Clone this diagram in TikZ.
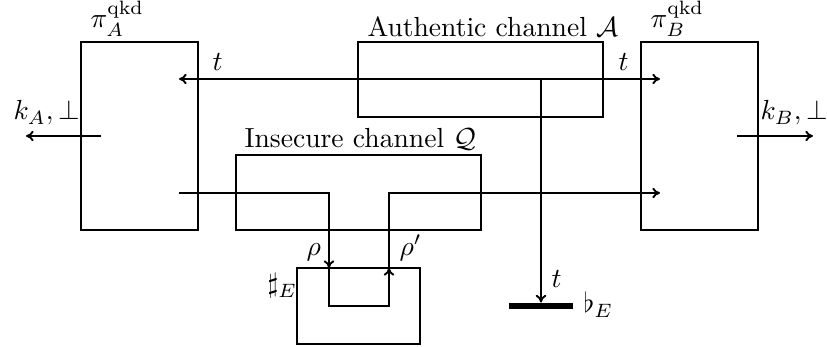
\documentclass[tikz,border=0pt]{standalone}
\usetikzlibrary{fit,arrows.meta}
\begin{document}
\begin{tikzpicture}[x=0.01464cm, y=-0.01464cm,
  >={Computer Modern Rightarrow[length=3.2pt,width=4.4pt]},
  box/.style={draw, thick, inner sep=0pt},
  conn/.style={thick},
  lbl/.style={inner sep=0pt, anchor=base west, scale=1.15}]
\useasboundingbox (0,0) rectangle (827,347);
% boxes
\node[box, fit={(81,42) (198,230)}] (A) {};
\node[box, fit={(641,42) (758,230)}] (B) {};
\node[box, fit={(358,42) (603,117)}] (Auth) {};
\node[box, fit={(236,155) (481,230)}] (Insec) {};
\node[box, fit={(297,268) (420,344)}] (Eve) {};
\node[fill=black, inner sep=0pt, fit={(509,303) (573,309)}] (bar) {};
% labels
\node[lbl] (piA) at (90,28) {$\pi_A^{\mathrm{qkd}}$};
\node[lbl] (piB) at (650,28) {$\pi_B^{\mathrm{qkd}}$};
\node[lbl] (authlbl) at (367,37) {Authentic channel $\mathcal{A}$};
\node[lbl] (inseclbl) at (244,148) {Insecure channel $\mathcal{Q}$};
\node[lbl] (tl) at (212,71) {$t$};
\node[lbl] (tr) at (618,71) {$t$};
\node[lbl] (kA) at (13,120) {$k_A,\bot$};
\node[lbl] (kB) at (760,120) {$k_B,\bot$};
\node[lbl] (rho) at (306,256) {$\rho$};
\node[lbl] (rhop) at (399,256) {$\rho'$};
\node[lbl] (sharp) at (267,293) {$\sharp_E$};
\node[lbl] (tbar) at (551,288) {$t$};
\node[lbl] (flat) at (583,313) {$\flat_E$};
% coordinates
\coordinate (tA) at (179,79);
\coordinate (tB) at (660,79);
\coordinate (J) at (bar.north |- tA);
\coordinate (kAs) at (101,136);
\coordinate (kAe) at (26,136);
\coordinate (kBs) at (737,136);
\coordinate (kBe) at (813,136);
\coordinate (qA) at (179,193);
\coordinate (qB) at (660,193);
\coordinate (rin) at (329,268);
\coordinate (rout) at (389,268);
\coordinate (eveb) at (329,306);
\coordinate (eveb2) at (389,306);
% connectors
\draw[conn, <->] (tA) -- (tB);
\draw[conn, ->] (J) -- (bar.north);
\draw[conn, ->] (kAs) -- (kAe);
\draw[conn, ->] (kBs) -- (kBe);
\draw[conn, ->] (qA) -| (rin);
\draw[conn, ->] (rin) -- (eveb) -- (eveb2) -- (rout);
\draw[conn, ->] (rout) |- (qB);
\end{tikzpicture}
\end{document}
